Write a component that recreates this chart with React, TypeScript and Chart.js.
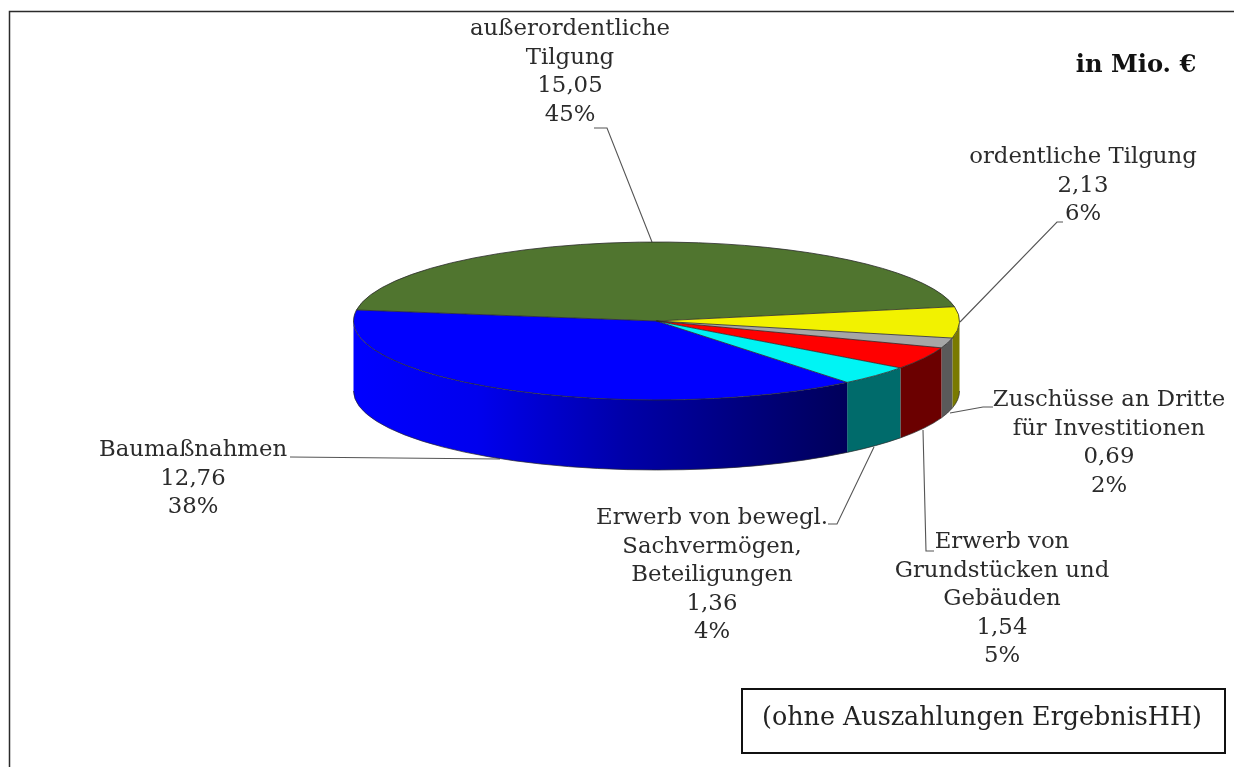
import React, { useEffect, useRef } from "react";
import { Chart, registerables } from "chart.js";

Chart.register(...registerables);

const categories = [
  ["außerordentliche", "Tilgung"],
  ["ordentliche Tilgung"],
  ["Zuschüsse an Dritte", "für Investitionen"],
  ["Erwerb von", "Grundstücken und", "Gebäuden"],
  ["Erwerb von bewegl.", "Sachvermögen,", "Beteiligungen"],
  ["Baumaßnahmen"],
];
const values = [15.05, 2.13, 0.69, 1.54, 1.36, 12.76];
const percents = ["45%", "6%", "2%", "5%", "4%", "38%"];
const unitNote = "in Mio. €";
const boxNote = "(ohne Auszahlungen ErgebnisHH)";

const topColors = ["#50752f", "#f2f200", "#a6a6a6", "#ff0000", "#00f4f4", "#0000ff"];
const wallColors = ["#2f4a1a", "#7a7a00", "#5a5a5a", "#6b0000", "#006b6b", "#0000ff"];

const LABEL_FONT = '22.8px "DejaVu Serif"';
const TEXT_COLOR = "#2b2b2b";
const LINE_HEIGHT = 28.6;
const RY = 79;
const DEPTH = 70;

// label centre x and y of first line for each slice
const labelAnchors = [
  [570, 29],
  [1083, 157],
  [1109, 400],
  [1002, 542],
  [712, 518],
  [193, 450],
];
const leaders = [
  [[652, 242], [607, 128], [594, 128]],
  [[960, 322], [1057, 222], [1063, 222]],
  [[950, 413], [983, 407], [993, 407]],
  [[923, 430], [926, 551], [934, 551]],
  [[874, 447], [837, 524], [828, 524]],
  [[290, 457], [500, 459]],
];

const pie3d = {
  id: "pie3d",
  beforeDatasetsDraw(chart: any) {
    const ctx = chart.ctx;
    const arcs = chart.getDatasetMeta(0).data;
    const { x: cx, y: cy, outerRadius: rx } = arcs[0];
    const two = Math.PI * 2;

    // frame
    ctx.save();
    ctx.strokeStyle = "#2b2b2b";
    ctx.lineWidth = 1.5;
    ctx.beginPath();
    ctx.moveTo(9.5, 767);
    ctx.lineTo(9.5, 11.5);
    ctx.lineTo(1234, 11.5);
    ctx.stroke();

    // leaders
    ctx.strokeStyle = "#555555";
    ctx.lineWidth = 1.1;
    leaders.forEach((pts) => {
      ctx.beginPath();
      pts.forEach(([x, y], i) => (i ? ctx.lineTo(x, y) : ctx.moveTo(x, y)));
      ctx.stroke();
    });

    // side walls
    arcs.forEach((arc: any, i: number) => {
      let a0 = arc.startAngle % two;
      let a1 = arc.endAngle % two;
      if (a0 < 0) a0 += two;
      if (a1 < 0) a1 += two;
      if (a1 < a0) a1 += two;
      const ranges = [
        [a0, a1],
        [a0 - two, a1 - two],
      ];
      ranges.forEach(([s0, s1]) => {
        const s = Math.max(s0, 0);
        const e = Math.min(s1, Math.PI);
        if (e <= s) return;
        ctx.beginPath();
        ctx.ellipse(cx, cy, rx, RY, 0, s, e, false);
        ctx.lineTo(cx + rx * Math.cos(e), cy + RY * Math.sin(e) + DEPTH);
        ctx.ellipse(cx, cy + DEPTH, rx, RY, 0, e, s, true);
        ctx.closePath();
        if (i === arcs.length - 1) {
          const g = ctx.createLinearGradient(cx + rx * Math.cos(s), 0, cx + rx * Math.cos(e), 0);
          g.addColorStop(0, "#00005a");
          g.addColorStop(0.45, "#0000a8");
          g.addColorStop(0.75, "#0000ee");
          g.addColorStop(1, "#0000ff");
          ctx.fillStyle = g;
        } else {
          ctx.fillStyle = wallColors[i];
        }
        ctx.fill();
        ctx.beginPath();
        ctx.ellipse(cx, cy + DEPTH, rx, RY, 0, e, s, true);
        ctx.strokeStyle = "#2a2a2a";
        ctx.lineWidth = 0.7;
        ctx.stroke();
      });
    });
    ctx.restore();

    // squash the library's round pie into the tilted top face
    ctx.save();
    ctx.translate(cx, cy);
    ctx.scale(1, RY / rx);
    ctx.translate(-cx, -cy);
  },
  afterDatasetsDraw(chart: any) {
    const ctx = chart.ctx;
    const arcs = chart.getDatasetMeta(0).data;
    const { x: cx, y: cy, outerRadius: rx } = arcs[0];
    ctx.restore();

    // crisp outline of the top face edge
    ctx.save();
    ctx.strokeStyle = "#2a2a2a";
    ctx.lineWidth = 0.8;
    arcs.forEach((arc: any) => {
      ctx.beginPath();
      const sx = cx + rx * Math.cos(arc.startAngle);
      const sy = cy + RY * Math.sin(arc.startAngle);
      ctx.moveTo(cx, cy);
      ctx.lineTo(sx, sy);
      ctx.stroke();
      ctx.beginPath();
      ctx.ellipse(cx, cy, rx, RY, 0, arc.startAngle, arc.endAngle, false);
      ctx.stroke();
    });

    // labels
    ctx.textAlign = "center";
    ctx.textBaseline = "middle";
    ctx.font = LABEL_FONT;
    ctx.fillStyle = TEXT_COLOR;
    categories.forEach((lines, i) => {
      const text = [...lines, values[i].toFixed(2).replace(".", ","), percents[i]];
      const [x, y] = labelAnchors[i];
      text.forEach((t, j) => ctx.fillText(t, x, y + j * LINE_HEIGHT));
    });

    // unit note
    ctx.font = 'bold 24.2px "DejaVu Serif"';
    ctx.fillStyle = "#111111";
    ctx.fillText(unitNote, 1136, 66);

    // boxed note
    ctx.strokeStyle = "#111111";
    ctx.lineWidth = 2;
    ctx.strokeRect(742, 689, 483, 64);
    ctx.font = '25.4px "DejaVu Serif"';
    ctx.fillStyle = "#222222";
    ctx.fillText(boxNote, 982, 718);
    ctx.restore();
  },
};

export default function App() {
  const ref = useRef<HTMLCanvasElement>(null);
  useEffect(() => {
    const chart = new Chart(ref.current!, {
      type: "pie",
      data: {
        labels: categories.map((c) => c.join(" ")),
        datasets: [
          {
            data: values,
            backgroundColor: topColors,
            borderWidth: 0,
            clip: false,
          } as any,
        ],
      },
      options: {
        responsive: false,
        animation: false,
        rotation: -82,
        layout: { padding: { left: 353, right: 274, top: 18, bottom: 143 } },
        plugins: { legend: { display: false }, tooltip: { enabled: false } },
      },
      plugins: [pie3d],
    });
    return () => chart.destroy();
  }, []);
  return (
    <div style={{ position: "absolute", left: 0, top: 0, width: 1234, height: 767, background: "#fff" }}>
      <canvas ref={ref} width={1234} height={767} style={{ display: "block" }} />
    </div>
  );
}
